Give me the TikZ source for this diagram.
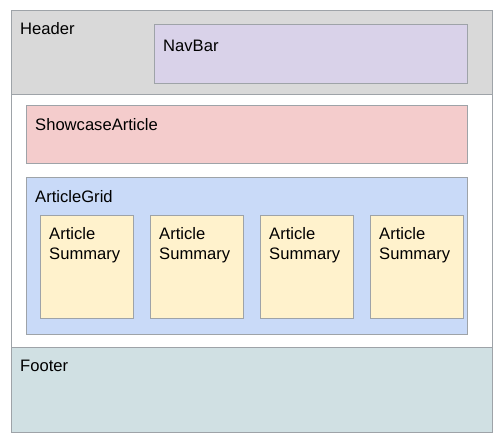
\documentclass[tikz,border=0pt]{standalone}
\usepackage{fontspec}
\setmainfont{Liberation Sans}
\definecolor{hdgray}{HTML}{D9D9D9}
\definecolor{navpurple}{HTML}{D9D2E9}
\definecolor{showred}{HTML}{F4CCCC}
\definecolor{gridblue}{HTML}{C9DAF8}
\definecolor{sumyellow}{HTML}{FFF2CC}
\definecolor{footcyan}{HTML}{D0E0E3}
\definecolor{edgegray}{HTML}{9EA3A8}
\begin{document}
\begin{tikzpicture}[x=1pt,y=-1pt]
      \tikzstyle{every node} = [anchor=base west, inner sep=0pt, font=\fontsize{16.6}{20}\selectfont]
      \tikzstyle{panel} = [draw=edgegray, line width=1pt]
      \useasboundingbox (0,0) rectangle (502,447);

      % page frame with header and footer
      \draw[panel, fill=white] (11,10) rectangle (492,432);
      \draw[panel, fill=hdgray] (11,10) rectangle (492,94);
      \draw[panel, fill=footcyan] (11,347) rectangle (492,432);
      \draw[panel, fill=navpurple] (154,24) rectangle (467,83);
      \draw[panel, fill=showred] (26,105) rectangle (467,163);
      \draw[panel, fill=gridblue] (26,177) rectangle (467,334);

      \node(header) at (20,34.5) {Header};
      \node(navbar) at (163,51) {NavBar};
      \node(showcase) at (35,130.5) {ShowcaseArticle};
      \node(grid) at (35,202.5) {ArticleGrid};
      \node(footer) at (20,371.7) {Footer};

        \foreach \i in {0,...,3}{
          \pgfmathsetmacro{\xleft}{40 + 110*\i}
          \draw[panel, fill=sumyellow] (\xleft,215) rectangle ++(93,103);
          \node[align=left, anchor=north west](sum\i) at (\xleft+9,227.2) {Article\\Summary};
      }
    \end{tikzpicture}
\end{document}
